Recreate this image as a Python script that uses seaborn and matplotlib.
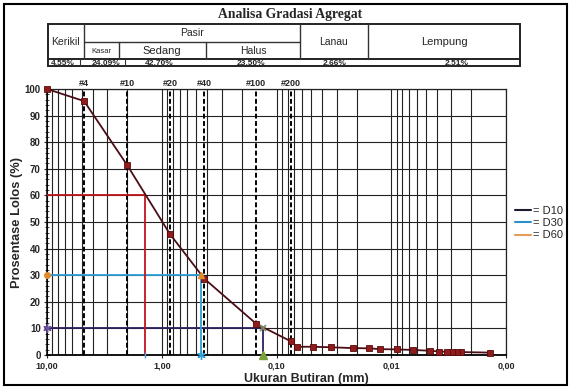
import numpy as np
import pandas as pd
import matplotlib
matplotlib.use("Agg")
import matplotlib.pyplot as plt
import seaborn as sns
from matplotlib.lines import Line2D
from matplotlib.patches import Rectangle
from matplotlib.ticker import FixedLocator, NullFormatter

# ---------------- data ----------------
sieve_labels = ["#4", "#10", "#20", "#40", "#100", "#200"]
sieve_mm = [4.75, 2.0, 0.85, 0.425, 0.15, 0.075]

grain_mm = [10.0, 4.75, 2.0, 0.85, 0.425, 0.15, 0.075,
            0.0662, 0.0481, 0.0335, 0.0215, 0.0156, 0.0125, 0.0089,
            0.0065, 0.0046, 0.0038, 0.00327, 0.00296, 0.00268, 0.00245,
            0.00138]
passing_pct = [100.0, 95.45, 71.36, 45.5, 28.66, 11.7, 5.16,
               3.1, 3.1, 2.9, 2.6, 2.5, 2.2, 2.1,
               1.9, 1.6, 1.3, 1.2, 1.1, 1.1, 1.1,
               0.9]

d_names = ["D10", "D30", "D60"]
d_pct = [10, 30, 60]
d_mm = [0.131, 0.455, 1.40]

x_ticks = [10, 1, 0.1, 0.01, 0.001]
x_ticklabels = ["10,00", "1,00", "0,10", "0,01", "0,00"]
y_ticks = [0, 10, 20, 30, 40, 50, 60, 70, 80, 90, 100]

table_headers = ["Kerikil", "Pasir", "Kasar", "Sedang", "Halus", "Lanau", "Lempung"]
table_values = ["4,55%", "24,09%", "42,70%", "23,50%", "2,66%", "2,51%"]
title = "Analisa Gradasi Agregat"

# ---------------- style ----------------
sns.set_style("white")
plt.rcParams["font.family"] = ["Liberation Sans", "DejaVu Sans"]

W, H = 571, 389
fig = plt.figure(figsize=(W / 100, H / 100), dpi=100)

# overlay axes in pixel coordinates for table & frame
tax = fig.add_axes([0, 0, 1, 1])
tax.set_xlim(0, W)
tax.set_ylim(H, 0)
tax.axis("off")
tax.patch.set_visible(False)

# plot axes
L, R, T, B = 47, 506, 89, 355
ax = fig.add_axes([L / W, 1 - B / H, (R - L) / W, (B - T) / H])

df = pd.DataFrame({"size": grain_mm, "pass": passing_pct})

ax.set_xscale("log")
ax.set_xlim(10, 0.001)
ax.set_ylim(0, 100)

# grid
ax.xaxis.set_major_locator(FixedLocator(x_ticks))
minor_x = [m * 10.0 ** e for e in range(-3, 1) for m in range(2, 10)]
ax.xaxis.set_minor_locator(FixedLocator(minor_x))
ax.xaxis.set_minor_formatter(NullFormatter())
ax.set_xticklabels(x_ticklabels)
ax.yaxis.set_major_locator(FixedLocator(y_ticks))
ax.yaxis.set_minor_locator(FixedLocator(list(range(0, 101, 2))))
ax.grid(True, which="both", axis="x", color="#222222", lw=0.8)
ax.grid(True, which="major", axis="y", color="#222222", lw=0.8)
ax.set_axisbelow(True)
for s in ax.spines.values():
    s.set_color("#222222")
    s.set_linewidth(0.9)
ax.spines["left"].set_color("black")
ax.spines["bottom"].set_color("black")
ax.spines["bottom"].set_linewidth(1.3)
ax.spines["left"].set_linewidth(1.1)

ax.tick_params(axis="y", which="major", direction="inout", length=5, width=0.8,
               labelsize=7, pad=2, left=True)
ax.tick_params(axis="y", which="minor", direction="inout", length=3, width=0.6, left=True)
ax.tick_params(axis="x", which="major", direction="out", length=2, labelsize=6.5, pad=2.5, bottom=True)
ax.tick_params(axis="x", which="minor", length=0)
for lab in ax.get_xticklabels() + ax.get_yticklabels():
    lab.set_fontweight("bold")

# sieve dashed lines
for nm, s in zip(sieve_labels, sieve_mm):
    ax.plot([s, s], [0, 100], color="black", lw=1.4, ls=(0, (2.5, 1.3)), zorder=2)
    ax.text(s, 100.3, nm, ha="center", va="bottom", fontsize=6.5, fontweight="bold",
            clip_on=False)

# D lines
d_line_cols = {"D10": "#2d1f5e", "D30": "#2e9fd6", "D60": "#c0141c"}
for nm, p, d in zip(d_names, d_pct, d_mm):
    c = d_line_cols[nm]
    ax.plot([10, d], [p, p], color=c, lw=1.3, zorder=3)
    ax.plot([d, d], [0, p], color=c, lw=1.3, zorder=3)

# small markers of the D constructions
ax.plot([10], [10], marker=(6, 2, 0), color="#6b4fa0", ms=6, mew=1, clip_on=False, zorder=6)
ax.plot([10], [30], marker="o", color="#e08a2c", ms=4, clip_on=False, zorder=6)
ax.plot([d_mm[2]], [0], marker="|", color="#5b9bd5", ms=4, mew=1, clip_on=False, zorder=6)
ax.plot([d_mm[1]], [0], marker=(6, 2, 0), color="#2e9fd6", ms=6, mew=1, clip_on=False, zorder=6)
ax.plot([d_mm[1]], [30], marker="^", color="#e08a2c", ms=4, clip_on=False, zorder=6)
ax.plot([d_mm[0]], [10], marker="x", color="#7f8f5f", ms=5, mew=1.2, clip_on=False, zorder=6)
ax.plot([d_mm[0]], [0], marker="^", color="#7aa03c", ms=6, clip_on=False, zorder=6)

# gradation curve
sns.lineplot(data=df, x="size", y="pass", ax=ax, estimator=None, color="#4a0e18",
             lw=1.3, marker="s", markersize=4.2, markerfacecolor="#8e1c1c",
             markeredgecolor="#5a0a0a", markeredgewidth=0.6, zorder=5, clip_on=False)

ax.set_xlabel("Ukuran Butiran (mm)", fontsize=9, fontweight="bold")
ax.set_ylabel("Prosentase Lolos (%)", fontsize=9.3, fontweight="bold")
ax.xaxis.set_label_coords((306 - L) / (R - L), (B - 373) / (B - T))
ax.yaxis.set_label_coords((23 - L) / (R - L), 0.5)

# legend
leg_cols = {"D10": "#1c1c2e", "D30": "#2d8fc7", "D60": "#e39c5a"}
handles = [Line2D([0], [0], color=leg_cols[n], lw=1.5) for n in d_names]
ax.legend(handles, ["= " + n for n in d_names], loc="upper left",
          bbox_to_anchor=(515 / W, 1 - 206 / H), bbox_transform=fig.transFigure,
          frameon=False, fontsize=8, handlelength=1.4, handletextpad=0.2,
          labelspacing=0.2, borderpad=0, borderaxespad=0)

# ---------------- table ----------------
tk = dict(color="#333333", lw=1.0)
tax.add_patch(Rectangle((47.5, 24), 520 - 47.5, 66 - 24, fill=False, ec="#222222", lw=1.4))
tax.plot([47.5, 520], [59, 59], color="#222222", lw=1.4)
tax.plot([84, 300], [42, 42], **tk)
for x in (84, 300, 368):
    tax.plot([x, x], [24, 59], **tk)
for x in (119, 206):
    tax.plot([x, x], [42, 59], **tk)
for x in (80, 125):
    tax.plot([x, x], [59, 66], color="#333333", lw=0.8)

tax.text(290, 14, title, ha="center", va="center", fontsize=9.8, fontweight="bold",
         family=["Liberation Serif", "DejaVu Serif"])
hdr_pos = [(65.5, 41.5, 7.5), (192, 33, 7.5), (101, 51, 5.5), (162, 51, 8),
           (253, 50.5, 7.5), (334, 41.5, 7.5), (444, 41.5, 8)]
for txt, (x, y, fs) in zip(table_headers, hdr_pos):
    tax.text(x, y, txt, ha="center", va="center", fontsize=fs)
val_x = [63, 106, 159, 251, 335, 457]
for txt, x in zip(table_values, val_x):
    tax.text(x, 63, txt, ha="center", va="center", fontsize=6, fontweight="bold")

# outer frame
tax.add_patch(Rectangle((4, 4), 563, 381, fill=False, ec="black", lw=1.5))

fig.savefig("out.png", dpi=100)
